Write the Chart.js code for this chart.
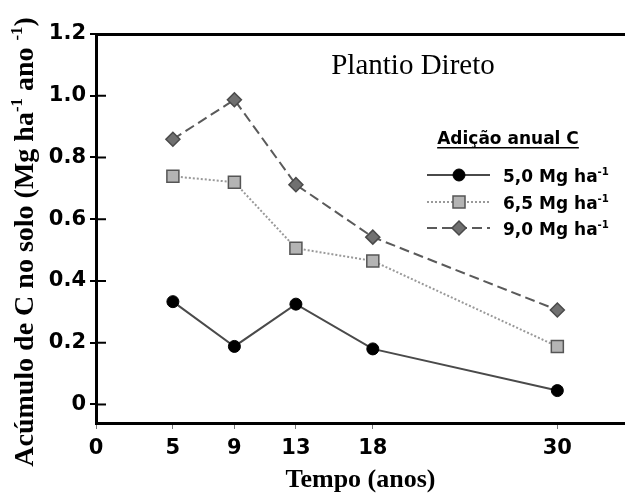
<!DOCTYPE html>
<html>
<head>
<meta charset="utf-8">
<script src="https://cdn.jsdelivr.net/npm/chart.js@4.4.1/dist/chart.umd.min.js"></script>
<style>
  html, body { margin: 0; padding: 0; background: #fff; }
</style>
</head>
<body>
<canvas id="chart" width="625" height="496"></canvas>
<script>
// values
const years = [5, 9, 13, 18, 30];
const xTicks = [0, 5, 9, 13, 18, 30];
const yTicks = [0, 0.2, 0.4, 0.6, 0.8, 1.0, 1.2];
const serie50 = [0.333, 0.188, 0.325, 0.180, 0.045];
const serie65 = [0.739, 0.720, 0.506, 0.465, 0.188];
const serie90 = [0.859, 0.987, 0.712, 0.542, 0.306];
const seriesLabels = ['5,0 Mg ha', '6,5 Mg ha', '9,0 Mg ha'];
const legendTitle = 'Adição anual C';
const panelTitle = 'Plantio Direto';
const xTitle = 'Tempo (anos)';

const serif = '"Liberation Serif", "DejaVu Serif", serif';
const sans = '"DejaVu Sans", sans-serif';

const toPoints = (vals) => vals.map((v, i) => ({ x: years[i], y: v }));

// draw text runs, some of them as superscript
function drawRuns(ctx, x, y, runs, size, weight, family) {
    let cx = x;
    runs.forEach((r) => {
        const s = r.sup ? size * 0.6 : size;
        ctx.font = `${weight} ${s}px ${family}`;
        ctx.fillText(r.t, cx, r.sup ? y - size * 0.4 : y);
        cx += ctx.measureText(r.t).width;
    });
    return cx - x;
}

function runsWidth(ctx, runs, size, weight, family) {
    let w = 0;
    runs.forEach((r) => {
        const s = r.sup ? size * 0.6 : size;
        ctx.font = `${weight} ${s}px ${family}`;
        w += ctx.measureText(r.t).width;
    });
    return w;
}

const extras = {
    id: 'extras',
    afterDraw(chart) {
        const ctx = chart.ctx;
        const yScale = chart.scales.y;
        const left = chart.chartArea.left;
        ctx.save();

        // inward tick marks on the y axis
        ctx.strokeStyle = '#000';
        ctx.lineWidth = 2;
        yTicks.forEach((v) => {
            const py = yScale.getPixelForValue(v);
            ctx.beginPath();
            ctx.moveTo(left, py);
            ctx.lineTo(left + 10, py);
            ctx.stroke();
        });

        ctx.fillStyle = '#000';
        ctx.textBaseline = 'alphabetic';
        ctx.textAlign = 'left';

        // y axis title, rotated
        const yRuns = [
            { t: 'Acúmulo de C no solo (Mg ha' },
            { t: '-1', sup: true },
            { t: ' ano ' },
            { t: '-1', sup: true },
            { t: ')' }
        ];
        const ySize = 28;
        const yw = runsWidth(ctx, yRuns, ySize, 'bold', serif);
        ctx.save();
        ctx.translate(33, 242);
        ctx.rotate(-Math.PI / 2);
        drawRuns(ctx, -yw / 2, 0, yRuns, ySize, 'bold', serif);
        ctx.restore();

        // panel title
        ctx.font = `29px ${serif}`;
        ctx.textAlign = 'center';
        ctx.fillText(panelTitle, 413, 74);

        // legend title, underlined
        ctx.font = `bold 17px ${sans}`;
        ctx.fillText(legendTitle, 508, 144);
        const tw = ctx.measureText(legendTitle).width;
        ctx.fillRect(508 - tw / 2, 147, tw, 1.5);

        // legend rows
        ctx.textAlign = 'left';
        const rowsY = [175, 202, 228];
        chart.data.datasets.forEach((ds, i) => {
            const ry = rowsY[i];
            ctx.save();
            ctx.strokeStyle = ds.borderColor;
            ctx.lineWidth = ds.borderWidth;
            ctx.setLineDash(ds.borderDash || []);
            ctx.beginPath();
            ctx.moveTo(427, ry);
            ctx.lineTo(490, ry);
            ctx.stroke();
            ctx.restore();
            ctx.save();
            ctx.fillStyle = ds.pointBackgroundColor;
            ctx.strokeStyle = ds.pointBorderColor;
            ctx.lineWidth = ds.pointBorderWidth;
            Chart.helpers.drawPoint(ctx, {
                pointStyle: ds.pointStyle,
                radius: ds.pointRadius,
                rotation: 0,
                borderWidth: ds.pointBorderWidth
            }, 459, ry);
            ctx.restore();
            ctx.fillStyle = '#000';
            drawRuns(ctx, 503, ry + 7, [
                { t: seriesLabels[i] },
                { t: '-1', sup: true }
            ], 17, 'bold', sans);
        });

        ctx.restore();
    }
};

new Chart(document.getElementById('chart'), {
    type: 'line',
    data: {
        datasets: [{
            label: seriesLabels[0],
            data: toPoints(serie50),
            borderColor: '#4a4a4a',
            borderWidth: 2,
            pointStyle: 'circle',
            pointRadius: 6,
            pointBackgroundColor: '#000',
            pointBorderColor: '#000',
            pointBorderWidth: 1
        }, {
            label: seriesLabels[1],
            data: toPoints(serie65),
            borderColor: '#999',
            borderWidth: 2,
            borderDash: [2, 2],
            pointStyle: 'rect',
            pointRadius: 8.5,
            pointBackgroundColor: '#b4b4b4',
            pointBorderColor: '#555',
            pointBorderWidth: 1.5
        }, {
            label: seriesLabels[2],
            data: toPoints(serie90),
            borderColor: '#5a5a5a',
            borderWidth: 2,
            borderDash: [10, 5],
            pointStyle: 'rectRot',
            pointRadius: 7,
            pointBackgroundColor: '#707070',
            pointBorderColor: '#4a4a4a',
            pointBorderWidth: 1.5
        }]
    },
    options: {
        responsive: false,
        devicePixelRatio: 1,
        animation: false,
        layout: { autoPadding: false, padding: { top: 34, right: 0, left: 0, bottom: 0 } },
        plugins: {
            legend: { display: false },
            tooltip: { enabled: false }
        },
        scales: {
            x: {
                type: 'linear',
                position: 'bottom',
                min: 0,
                max: 34.4,
                afterBuildTicks: (s) => { s.ticks = xTicks.map((v) => ({ value: v })); },
                afterFit: (s) => { s.height = 73; },
                grid: { drawOnChartArea: false, tickLength: 6, color: '#777', lineWidth: 1 },
                border: { color: '#000', width: 3 },
                ticks: {
                    color: '#000',
                    padding: 7,
                    maxRotation: 0,
                    font: { family: sans, size: 21, weight: 'bold' }
                },
                title: {
                    display: true,
                    text: xTitle,
                    color: '#000',
                    padding: { top: 2, bottom: 0 },
                    font: { family: serif, size: 26, weight: 'bold' }
                }
            },
            x2: {
                type: 'linear',
                axis: 'x',
                position: 'top',
                min: 0,
                max: 34.4,
                afterFit: (s) => { s.height = 0; },
                grid: { display: false },
                ticks: { display: false },
                border: { color: '#000', width: 3 }
            },
            y: {
                type: 'linear',
                min: -0.06,
                max: 1.2,
                afterBuildTicks: (s) => { s.ticks = yTicks.map((v) => ({ value: v })); },
                afterFit: (s) => { s.width = 96; },
                grid: { drawOnChartArea: false, tickLength: 6, color: '#000', lineWidth: 2 },
                border: { color: '#000', width: 3 },
                ticks: {
                    color: '#000',
                    padding: 4,
                    font: { family: sans, size: 21, weight: 'bold' },
                    callback: (v) => (v === 0 ? '0' : v.toFixed(1))
                }
            }
        }
    },
    plugins: [extras]
});
</script>
</body>
</html>
